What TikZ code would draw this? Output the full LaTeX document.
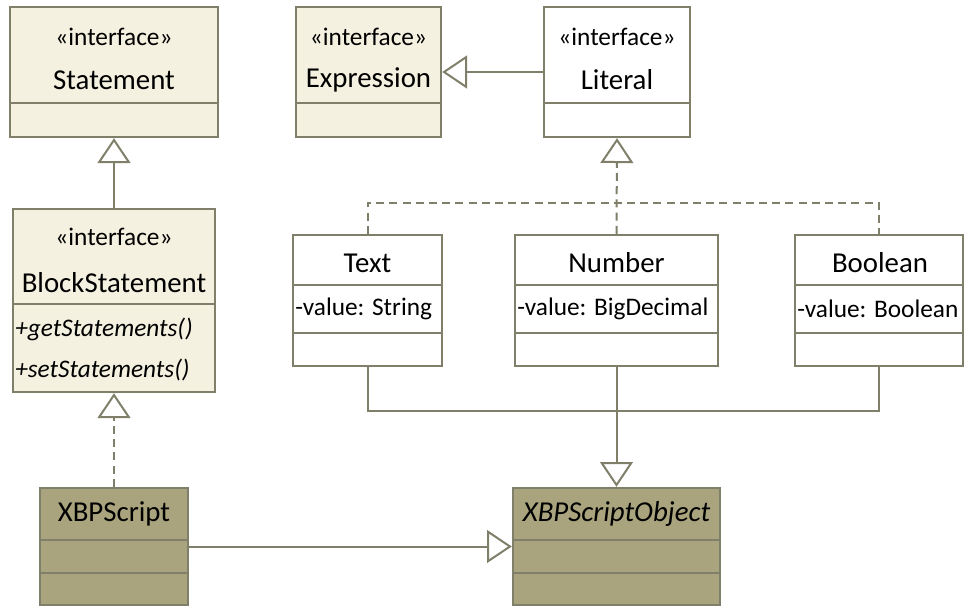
\documentclass[tikz,border=0pt]{standalone}
\usepackage{fontspec}
\setmainfont{Carlito}
\usetikzlibrary{positioning}
\usetikzlibrary{calc}
\usetikzlibrary{fit}
\usetikzlibrary{arrows.meta}
\definecolor{interface colour}{HTML}{F4F1E0}
\definecolor{script colour}{HTML}{A9A47D}
\definecolor{line colour}{HTML}{807F69}
\tikzset{
    % Open triangle head for both generalisation and realisation
    >={Triangle[open, length=6.2mm, width=8.2mm]},
%
    % Fills
    interface fill/.style={fill=interface colour},
    plain fill/.style={fill=white},
    script fill/.style={fill=script colour},
%
    % Boxes are fitted to their corners
    class box/.style={fit={#1}, inner sep=0, draw=line colour, line width=0.6mm},
    divider/.style={draw=line colour, line width=0.6mm},
%
    % Connectors
    generalise/.style={draw=line colour, line width=0.5mm, ->},
    realise/.style={generalise, dash pattern=on 2mm off 1.3mm},
    plain line/.style={draw=line colour, line width=0.5mm},
    dash line/.style={plain line, dash pattern=on 2mm off 1.3mm},
%
    every node/.style={inner sep=0, font=\fontsize{18}{21}\selectfont},
    class name/.style={font=\fontsize{20.5}{24}\selectfont},
    member/.style={anchor=west},
}

\begin{document}
\begin{tikzpicture}[x=0.025cm, y=-0.025cm]
    \useasboundingbox (0,0) rectangle (965,607);

    % Class boxes
    \node [class box={(10,7) (218,137)}, interface fill] (Statement) {};
    \node [class box={(296,7) (441,137)}, interface fill] (Expression) {};
    \node [class box={(544,7) (690,137)}, plain fill] (Literal) {};
    \node [class box={(13,209) (215,392)}, interface fill] (BlockStatement) {};
    \node [class box={(293,235) (442,366)}, plain fill] (Text) {};
    \node [class box={(515,235) (718,366)}, plain fill] (Number) {};
    \node [class box={(795,235) (963,366)}, plain fill] (Boolean) {};
    \node [class box={(40,488) (188,605)}, script fill] (XBPScript) {};
    \node [class box={(513,488) (720,605)}, script fill] (XBPScriptObject) {};

    % Compartments
    \foreach \cls/\y in {Statement/103, Expression/103, Literal/103,
            BlockStatement/304, Text/285, Text/333, Number/285, Number/333,
            Boolean/285, Boolean/333, XBPScript/540, XBPScript/573,
            XBPScriptObject/540, XBPScriptObject/573}
        \draw [divider] (\cls.west |- 0,\y) -- (\cls.east |- 0,\y);

    % Names and members
    \node at (114,37) {«interface»};
    \node at (114,80) [class name] {Statement};
    \node at (368.5,37) {«interface»};
    \node at (368.5,80) [class name] {Expression};
    \node at (617,37) {«interface»};
    \node at (617,80) [class name] {Literal};
    \node at (114,237) {«interface»};
    \node at (114,283) [class name] {BlockStatement};
    \node at (15,329) [member] {\itshape +getStatements()};
    \node at (15,370) [member] {\itshape +setStatements()};
    \node at (367.5,263) [class name] {Text};
    \node at (295,309) [member] {-value: String};
    \node at (616.5,263) [class name] {Number};
    \node at (517,309) [member] {-value: BigDecimal};
    \node at (880,263) [class name] {Boolean};
    \node at (797,309) [member] {-value: Boolean};
    \node at (114,514) [class name] {XBPScript};
    \node at (616.5,514) [class name] {\itshape XBPScriptObject};

    % Connectors
    \draw [generalise] (BlockStatement.north) -- (Statement.south);
    \draw [generalise] (Literal.west) -- (Expression.east);
    \draw [realise] (Number.north) -- (Literal.south);
    \draw [dash line] (Text.north) -- ++(0,-31) -| (Boolean.north);
    \draw [realise] (XBPScript.north) -- (BlockStatement.south);
    \draw [plain line] (Text.south) -- ++(0,44) -| (Boolean.south);
    \draw [generalise] (Number.south) -- (XBPScriptObject.north);
    \draw [generalise] (XBPScript.east) -- (XBPScriptObject.west);
\end{tikzpicture}
\end{document}
